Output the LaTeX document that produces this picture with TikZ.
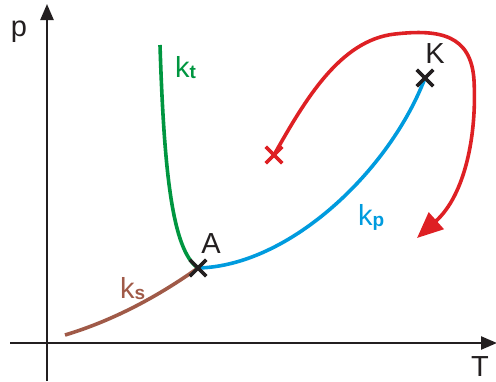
\documentclass[tikz,border=0pt]{standalone}
\usepackage{fontspec}
\setmainfont{Liberation Sans}
\usetikzlibrary{arrows.meta,shapes.misc}
\definecolor{cblack}{RGB}{35,31,32}
\definecolor{cgreen}{RGB}{0,150,64}
\definecolor{cblue}{RGB}{0,155,222}
\definecolor{cbrown}{RGB}{160,90,72}
\definecolor{cred}{RGB}{222,32,36}
\tikzset{
  axis/.style={draw=cblack,line width=2.4pt,-{Triangle[length=16pt,width=13pt]}},
  curve/.style={line width=3.6pt},
  xmark/.style={draw=#1,cross out,minimum size=13pt,inner sep=0pt,line width=3.4pt},
  lbl/.style={text=cblack,font=\fontsize{29}{29}\selectfont,inner sep=0pt,anchor=base},
  klbl/.style={font=\fontsize{29}{29}\selectfont,inner sep=0pt,anchor=base west},
}
\newcommand{\subk}[1]{\raisebox{-1pt}{\fontsize{19}{19}\selectfont\bfseries #1}}
\begin{document}
\begin{tikzpicture}[x=1pt,y=-1pt]
\useasboundingbox (0,0) rectangle (496,381);
% axes
\coordinate (yb) at (47,381);
\coordinate (yt) at (47,4);
\coordinate (xl) at (10,343);
\coordinate (xr) at (497,343);
\draw[axis] (yb) -- (yt);
\draw[axis] (xl) -- (xr);
\node[lbl] (plbl) at (19,36) {p};
\node[lbl] (Tlbl) at (480,376) {T};
% points
\coordinate (kttop) at (160,45);
\coordinate (ksstart) at (65,335);
\coordinate (Rend) at (417,238);
\coordinate (R1) at (395,34);
\coordinate (R2) at (474,80);
\node[xmark=cblack] (A) at (198,268) {};
\node[xmark=cblack] (K) at (425,78) {};
\node[xmark=cred] (X) at (274,155) {};
% curves
\draw[curve,cgreen] (kttop) .. controls (164,170) and (172,250) .. (A.center);
\draw[curve,cbrown] (ksstart) .. controls (115,320) and (160,295) .. (A.center);
\draw[curve,cblue] (A.center) .. controls (290,266) and (390,170) .. (K.center);
\draw[curve,cred,-{Triangle[length=26pt,width=22pt]}] (X.center) .. controls (305,100) and (340,40) .. (R1)
   .. controls (440,29) and (471,35) .. (R2)
   .. controls (477,135) and (465,195) .. (Rend);
% redraw marks on top
\node[xmark=cblack] at (A) {};
\node[xmark=cblack] at (K) {};
\node[xmark=cred] at (X) {};
% labels
\node[lbl] (Albl) at (211,253) {A};
\node[lbl] (Klbl) at (435,63) {K};
\node[klbl,text=cgreen] (ktlbl) at (175,77) {k\subk{t}};
\node[klbl,text=cblue] (kplbl) at (358,225) {k\subk{p}};
\node[klbl,text=cbrown] (kslbl) at (120,298) {k\subk{s}};
\end{tikzpicture}
\end{document}
